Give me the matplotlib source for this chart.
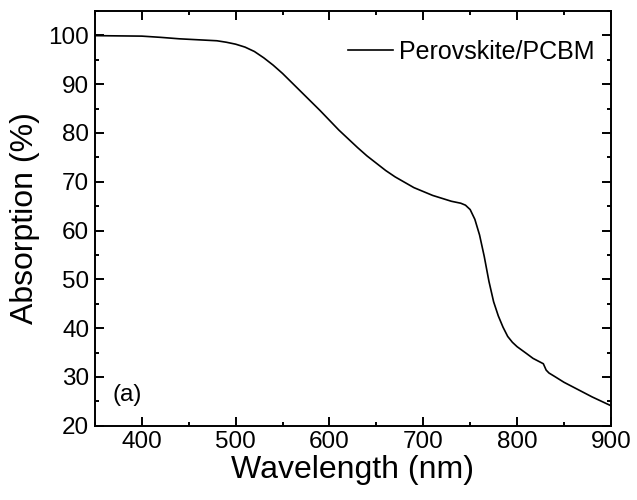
import matplotlib
matplotlib.use("Agg")
import matplotlib.pyplot as plt
from matplotlib.ticker import MultipleLocator

plt.rcParams['font.family'] = ['Liberation Sans', 'DejaVu Sans']

wavelength = [350, 375, 400, 420, 440, 460, 480, 490, 500, 510, 520, 530, 540, 550,
              560, 570, 580, 590, 600, 610, 620, 630, 640, 650, 660, 670, 680, 690,
              700, 710, 720, 730, 735, 740, 745, 750, 755, 760, 765, 770, 775, 780, 785,
              790, 795, 800, 805, 810, 817, 822, 828, 831, 834, 840, 850, 860, 870, 880, 890, 900]
absorption = [99.95, 99.9, 99.85, 99.6, 99.3, 99.1, 98.9, 98.6, 98.2, 97.6, 96.7, 95.4, 93.9, 92.2,
              90.3, 88.4, 86.5, 84.6, 82.6, 80.6, 78.8, 77.0, 75.3, 73.8, 72.3, 71.0, 69.9, 68.8,
              68.0, 67.2, 66.6, 66.0, 65.8, 65.6, 65.2, 64.3, 62.3, 59.1, 54.7, 49.6, 45.4, 42.5, 40.2,
              38.3, 37.1, 36.2, 35.5, 34.8, 33.8, 33.3, 32.7, 31.4, 30.8, 30.1, 28.9, 27.9, 26.9, 25.9, 25.0, 24.1]
series_label = "Perovskite/PCBM"
panel_label = "(a)"
x_label = "Wavelength (nm)"
y_label = "Absorption (%)"

fig = plt.figure(figsize=(6.37, 5.0), dpi=100)
ax = fig.add_axes([0.149, 0.1486, 0.810, 0.8294])

ax.plot(wavelength, absorption, color='black', lw=1.2, label=series_label)

ax.set_xlim(350, 900)
ax.set_ylim(20, 105)
ax.xaxis.set_major_locator(MultipleLocator(100))
ax.xaxis.set_minor_locator(MultipleLocator(50))
ax.yaxis.set_major_locator(MultipleLocator(10))
ax.yaxis.set_minor_locator(MultipleLocator(5))
ax.tick_params(which='both', direction='in', top=True, right=True, width=1.4,
               labelsize=17.5, pad=4)
ax.tick_params(which='major', length=6.5)
ax.tick_params(which='minor', length=3.2)
for s in ax.spines.values():
    s.set_linewidth(1.4)

ax.set_xlabel(x_label, fontsize=23, labelpad=1)
ax.set_ylabel(y_label, fontsize=23, labelpad=6)

ax.legend(loc='center right', bbox_to_anchor=(0.968, 0.901), frameon=False,
          fontsize=18, handlelength=1.8, handletextpad=0.25, borderpad=0,
          borderaxespad=0)
ax.text(0.035, 0.074, panel_label, transform=ax.transAxes, fontsize=17.5,
        ha='left', va='center')

fig.savefig('out.png', dpi=100)
